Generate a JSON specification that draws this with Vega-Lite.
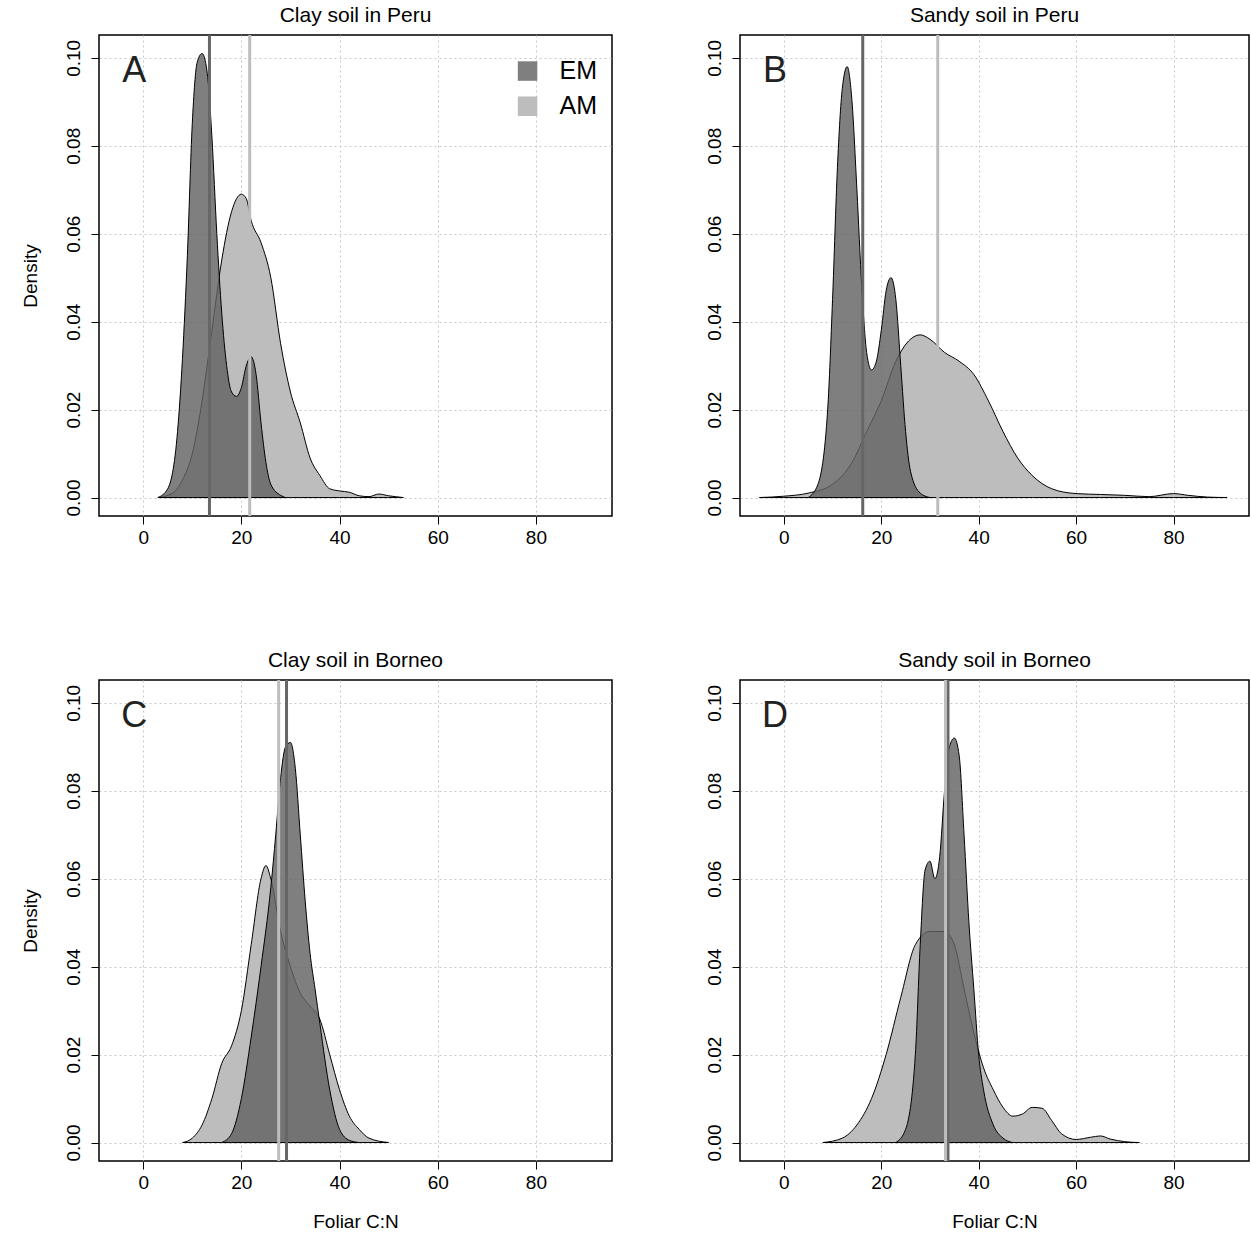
{
  "$schema": "https://vega.github.io/schema/vega-lite/v6.json",
  "background": "white",
  "padding": {"left": 20, "top": 3, "right": 0, "bottom": 0},
  "datasets": {
    "dens": [
      {"p":"A","g":"EM","x":3,"y":0},{"p":"A","g":"EM","x":5,"y":0.002},{"p":"A","g":"EM","x":7,"y":0.015},{"p":"A","g":"EM","x":9,"y":0.055},{"p":"A","g":"EM","x":10,"y":0.085},{"p":"A","g":"EM","x":11,"y":0.099},{"p":"A","g":"EM","x":12,"y":0.101},{"p":"A","g":"EM","x":13,"y":0.097},{"p":"A","g":"EM","x":14,"y":0.082},{"p":"A","g":"EM","x":15,"y":0.06},{"p":"A","g":"EM","x":16,"y":0.042},{"p":"A","g":"EM","x":17,"y":0.03},{"p":"A","g":"EM","x":18,"y":0.024},{"p":"A","g":"EM","x":19,"y":0.023},{"p":"A","g":"EM","x":20,"y":0.025},{"p":"A","g":"EM","x":21,"y":0.03},{"p":"A","g":"EM","x":22,"y":0.032},{"p":"A","g":"EM","x":23,"y":0.028},{"p":"A","g":"EM","x":24,"y":0.017},{"p":"A","g":"EM","x":25,"y":0.008},{"p":"A","g":"EM","x":26,"y":0.003},{"p":"A","g":"EM","x":28,"y":0.0005},{"p":"A","g":"EM","x":29,"y":0},
      {"p":"A","g":"AM","x":3,"y":0},{"p":"A","g":"AM","x":6,"y":0.001},{"p":"A","g":"AM","x":8,"y":0.004},{"p":"A","g":"AM","x":10,"y":0.01},{"p":"A","g":"AM","x":12,"y":0.022},{"p":"A","g":"AM","x":14,"y":0.038},{"p":"A","g":"AM","x":16,"y":0.054},{"p":"A","g":"AM","x":18,"y":0.065},{"p":"A","g":"AM","x":20,"y":0.069},{"p":"A","g":"AM","x":21,"y":0.068},{"p":"A","g":"AM","x":22,"y":0.063},{"p":"A","g":"AM","x":24,"y":0.058},{"p":"A","g":"AM","x":26,"y":0.05},{"p":"A","g":"AM","x":28,"y":0.035},{"p":"A","g":"AM","x":30,"y":0.024},{"p":"A","g":"AM","x":32,"y":0.017},{"p":"A","g":"AM","x":34,"y":0.009},{"p":"A","g":"AM","x":36,"y":0.005},{"p":"A","g":"AM","x":38,"y":0.002},{"p":"A","g":"AM","x":40,"y":0.0015},{"p":"A","g":"AM","x":42,"y":0.0012},{"p":"A","g":"AM","x":44,"y":0.0004},{"p":"A","g":"AM","x":46,"y":0.0002},{"p":"A","g":"AM","x":48,"y":0.0008},{"p":"A","g":"AM","x":50,"y":0.0004},{"p":"A","g":"AM","x":53,"y":0},
      {"p":"B","g":"EM","x":5,"y":0},{"p":"B","g":"EM","x":7,"y":0.003},{"p":"B","g":"EM","x":9,"y":0.02},{"p":"B","g":"EM","x":10,"y":0.045},{"p":"B","g":"EM","x":11,"y":0.075},{"p":"B","g":"EM","x":12,"y":0.093},{"p":"B","g":"EM","x":13,"y":0.098},{"p":"B","g":"EM","x":14,"y":0.09},{"p":"B","g":"EM","x":15,"y":0.07},{"p":"B","g":"EM","x":16,"y":0.048},{"p":"B","g":"EM","x":17,"y":0.033},{"p":"B","g":"EM","x":18,"y":0.029},{"p":"B","g":"EM","x":19,"y":0.031},{"p":"B","g":"EM","x":20,"y":0.038},{"p":"B","g":"EM","x":21,"y":0.047},{"p":"B","g":"EM","x":22,"y":0.05},{"p":"B","g":"EM","x":23,"y":0.045},{"p":"B","g":"EM","x":24,"y":0.03},{"p":"B","g":"EM","x":25,"y":0.015},{"p":"B","g":"EM","x":26,"y":0.006},{"p":"B","g":"EM","x":28,"y":0.001},{"p":"B","g":"EM","x":30,"y":0},
      {"p":"B","g":"AM","x":-5,"y":0},{"p":"B","g":"AM","x":0,"y":0.0003},{"p":"B","g":"AM","x":5,"y":0.001},{"p":"B","g":"AM","x":10,"y":0.003},{"p":"B","g":"AM","x":14,"y":0.008},{"p":"B","g":"AM","x":17,"y":0.015},{"p":"B","g":"AM","x":20,"y":0.022},{"p":"B","g":"AM","x":23,"y":0.031},{"p":"B","g":"AM","x":26,"y":0.036},{"p":"B","g":"AM","x":28,"y":0.037},{"p":"B","g":"AM","x":30,"y":0.036},{"p":"B","g":"AM","x":33,"y":0.033},{"p":"B","g":"AM","x":36,"y":0.031},{"p":"B","g":"AM","x":39,"y":0.028},{"p":"B","g":"AM","x":42,"y":0.022},{"p":"B","g":"AM","x":45,"y":0.015},{"p":"B","g":"AM","x":48,"y":0.009},{"p":"B","g":"AM","x":51,"y":0.005},{"p":"B","g":"AM","x":55,"y":0.002},{"p":"B","g":"AM","x":60,"y":0.0009},{"p":"B","g":"AM","x":65,"y":0.0007},{"p":"B","g":"AM","x":70,"y":0.0005},{"p":"B","g":"AM","x":75,"y":0.0002},{"p":"B","g":"AM","x":80,"y":0.0009},{"p":"B","g":"AM","x":83,"y":0.0005},{"p":"B","g":"AM","x":87,"y":0.0001},{"p":"B","g":"AM","x":91,"y":0},
      {"p":"C","g":"EM","x":16,"y":0},{"p":"C","g":"EM","x":18,"y":0.002},{"p":"C","g":"EM","x":20,"y":0.01},{"p":"C","g":"EM","x":22,"y":0.024},{"p":"C","g":"EM","x":24,"y":0.04},{"p":"C","g":"EM","x":26,"y":0.058},{"p":"C","g":"EM","x":27,"y":0.07},{"p":"C","g":"EM","x":28,"y":0.083},{"p":"C","g":"EM","x":29,"y":0.09},{"p":"C","g":"EM","x":30,"y":0.091},{"p":"C","g":"EM","x":31,"y":0.085},{"p":"C","g":"EM","x":32,"y":0.07},{"p":"C","g":"EM","x":33,"y":0.055},{"p":"C","g":"EM","x":34,"y":0.043},{"p":"C","g":"EM","x":35,"y":0.035},{"p":"C","g":"EM","x":36,"y":0.027},{"p":"C","g":"EM","x":38,"y":0.012},{"p":"C","g":"EM","x":40,"y":0.003},{"p":"C","g":"EM","x":42,"y":0.0005},{"p":"C","g":"EM","x":44,"y":0},
      {"p":"C","g":"AM","x":8,"y":0},{"p":"C","g":"AM","x":10,"y":0.001},{"p":"C","g":"AM","x":12,"y":0.004},{"p":"C","g":"AM","x":14,"y":0.01},{"p":"C","g":"AM","x":16,"y":0.018},{"p":"C","g":"AM","x":18,"y":0.022},{"p":"C","g":"AM","x":20,"y":0.03},{"p":"C","g":"AM","x":22,"y":0.045},{"p":"C","g":"AM","x":24,"y":0.06},{"p":"C","g":"AM","x":25,"y":0.063},{"p":"C","g":"AM","x":26,"y":0.06},{"p":"C","g":"AM","x":28,"y":0.048},{"p":"C","g":"AM","x":30,"y":0.04},{"p":"C","g":"AM","x":32,"y":0.034},{"p":"C","g":"AM","x":34,"y":0.031},{"p":"C","g":"AM","x":36,"y":0.028},{"p":"C","g":"AM","x":38,"y":0.02},{"p":"C","g":"AM","x":40,"y":0.012},{"p":"C","g":"AM","x":42,"y":0.006},{"p":"C","g":"AM","x":44,"y":0.003},{"p":"C","g":"AM","x":46,"y":0.001},{"p":"C","g":"AM","x":50,"y":0},
      {"p":"D","g":"EM","x":23,"y":0},{"p":"D","g":"EM","x":25,"y":0.003},{"p":"D","g":"EM","x":27,"y":0.02},{"p":"D","g":"EM","x":28,"y":0.045},{"p":"D","g":"EM","x":29,"y":0.062},{"p":"D","g":"EM","x":30,"y":0.064},{"p":"D","g":"EM","x":31,"y":0.06},{"p":"D","g":"EM","x":32,"y":0.065},{"p":"D","g":"EM","x":33,"y":0.08},{"p":"D","g":"EM","x":34,"y":0.09},{"p":"D","g":"EM","x":35,"y":0.092},{"p":"D","g":"EM","x":36,"y":0.088},{"p":"D","g":"EM","x":37,"y":0.07},{"p":"D","g":"EM","x":38,"y":0.05},{"p":"D","g":"EM","x":39,"y":0.035},{"p":"D","g":"EM","x":40,"y":0.02},{"p":"D","g":"EM","x":41,"y":0.012},{"p":"D","g":"EM","x":43,"y":0.004},{"p":"D","g":"EM","x":45,"y":0.001},{"p":"D","g":"EM","x":47,"y":0},
      {"p":"D","g":"AM","x":8,"y":0},{"p":"D","g":"AM","x":12,"y":0.001},{"p":"D","g":"AM","x":15,"y":0.004},{"p":"D","g":"AM","x":18,"y":0.01},{"p":"D","g":"AM","x":21,"y":0.02},{"p":"D","g":"AM","x":24,"y":0.033},{"p":"D","g":"AM","x":27,"y":0.045},{"p":"D","g":"AM","x":30,"y":0.048},{"p":"D","g":"AM","x":33,"y":0.048},{"p":"D","g":"AM","x":35,"y":0.045},{"p":"D","g":"AM","x":37,"y":0.035},{"p":"D","g":"AM","x":39,"y":0.025},{"p":"D","g":"AM","x":41,"y":0.017},{"p":"D","g":"AM","x":43,"y":0.012},{"p":"D","g":"AM","x":45,"y":0.008},{"p":"D","g":"AM","x":47,"y":0.006},{"p":"D","g":"AM","x":49,"y":0.0065},{"p":"D","g":"AM","x":51,"y":0.008},{"p":"D","g":"AM","x":53,"y":0.0078},{"p":"D","g":"AM","x":55,"y":0.005},{"p":"D","g":"AM","x":57,"y":0.002},{"p":"D","g":"AM","x":60,"y":0.0007},{"p":"D","g":"AM","x":63,"y":0.0012},{"p":"D","g":"AM","x":65,"y":0.0015},{"p":"D","g":"AM","x":67,"y":0.0008},{"p":"D","g":"AM","x":70,"y":0.0002},{"p":"D","g":"AM","x":73,"y":0}
    ],
    "means": [
      {"p":"A","g":"EM","x":13.5},{"p":"A","g":"AM","x":21.7},
      {"p":"B","g":"EM","x":16.2},{"p":"B","g":"AM","x":31.6},
      {"p":"C","g":"EM","x":29.2},{"p":"C","g":"AM","x":27.6},
      {"p":"D","g":"EM","x":33.7},{"p":"D","g":"AM","x":33.2}
    ],
    "letters": [
      {"p":"A","x":-1.8,"y":0.097,"t":"A"},{"p":"B","x":-1.8,"y":0.097,"t":"B"},
      {"p":"C","x":-1.8,"y":0.097,"t":"C"},{"p":"D","x":-1.8,"y":0.097,"t":"D"}
    ],
    "leg": [
      {"g":"EM","x":78.3,"y":0.097},{"g":"AM","x":78.3,"y":0.089}
    ]
  },
  "config": {
    "font": "Liberation Sans",
    "view": {"stroke": "black", "strokeWidth": 1.5},
    "title": {"fontSize": 21, "fontWeight": "normal", "offset": 8},
    "axis": {
      "labelFontSize": 19, "titleFontSize": 19, "titleFontWeight": "normal",
      "labelColor": "black", "titleColor": "black", "tickColor": "black",
      "tickSize": 8, "tickWidth": 1, "domain": false,
      "gridDash": [2, 3], "gridColor": "#c8c8c8", "labelPadding": 8
    },
    "axisX": {"labelPadding": 4},
    "area": {"interpolate": "monotone"}
  },
  "spacing": 100,
  "vconcat": [
    {"spacing": 91, "hconcat": [
      {"width": 513, "height": 481, "title": "Clay soil in Peru", "layer": [
        {"data": {"name": "dens"}, "transform": [{"filter": "datum.p=='A' && datum.g=='AM'"}],
         "mark": {"type": "area", "color": "#bdbdbd", "stroke": "black", "strokeWidth": 1},
         "encoding": {
           "x": {"field": "x", "type": "quantitative", "scale": {"domain": [-9, 95.5], "nice": false, "zero": false}, "axis": {"values": [0,20,40,60,80], "title": null}},
           "y": {"field": "y", "type": "quantitative", "scale": {"domain": [-0.0042, 0.1052], "nice": false, "zero": false}, "axis": {"values": [0,0.02,0.04,0.06,0.08,0.1], "format": ".2f", "labelAngle": -90, "labelAlign": "center", "labelBaseline": "bottom", "title": "Density", "titlePadding": 24}}}},
        {"data": {"name": "dens"}, "transform": [{"filter": "datum.p=='A' && datum.g=='EM'"}],
         "mark": {"type": "area", "color": "#636363", "fillOpacity": 0.82, "stroke": "black", "strokeWidth": 1},
         "encoding": {"x": {"field": "x", "type": "quantitative"}, "y": {"field": "y", "type": "quantitative"}}},
        {"data": {"name": "means"}, "transform": [{"filter": "datum.p=='A'"}],
         "mark": {"type": "rule", "strokeWidth": 3},
         "encoding": {"x": {"field": "x", "type": "quantitative"}, "color": {"field": "g", "type": "nominal", "scale": {"domain": ["EM","AM"], "range": ["#666666","#bdbdbd"]}, "legend": null}}},
        {"data": {"name": "letters"}, "transform": [{"filter": "datum.p=='A'"}],
         "mark": {"type": "text", "fontSize": 36, "color": "#222"},
         "encoding": {"x": {"field": "x", "type": "quantitative"}, "y": {"field": "y", "type": "quantitative"}, "text": {"field": "t"}}},
        {"data": {"name": "leg"},
         "mark": {"type": "square", "size": 380, "opacity": 1},
         "encoding": {"x": {"field": "x", "type": "quantitative"}, "y": {"field": "y", "type": "quantitative"}, "color": {"field": "g", "type": "nominal", "scale": {"domain": ["EM","AM"], "range": ["#7f7f7f","#bdbdbd"]}, "legend": null}}},
        {"data": {"name": "leg"},
         "mark": {"type": "text", "fontSize": 25, "align": "left", "dx": 32, "color": "black"},
         "encoding": {"x": {"field": "x", "type": "quantitative"}, "y": {"field": "y", "type": "quantitative"}, "text": {"field": "g"}}}
      ], "resolve": {"scale": {"color": "independent"}}},
      {"width": 509, "height": 481, "title": "Sandy soil in Peru", "layer": [
        {"data": {"name": "dens"}, "transform": [{"filter": "datum.p=='B' && datum.g=='AM'"}],
         "mark": {"type": "area", "color": "#bdbdbd", "stroke": "black", "strokeWidth": 1},
         "encoding": {
           "x": {"field": "x", "type": "quantitative", "scale": {"domain": [-9, 95.5], "nice": false, "zero": false}, "axis": {"values": [0,20,40,60,80], "title": null}},
           "y": {"field": "y", "type": "quantitative", "scale": {"domain": [-0.0042, 0.1052], "nice": false, "zero": false}, "axis": {"values": [0,0.02,0.04,0.06,0.08,0.1], "format": ".2f", "labelAngle": -90, "labelAlign": "center", "labelBaseline": "bottom", "title": null}}}},
        {"data": {"name": "dens"}, "transform": [{"filter": "datum.p=='B' && datum.g=='EM'"}],
         "mark": {"type": "area", "color": "#636363", "fillOpacity": 0.82, "stroke": "black", "strokeWidth": 1},
         "encoding": {"x": {"field": "x", "type": "quantitative"}, "y": {"field": "y", "type": "quantitative"}}},
        {"data": {"name": "means"}, "transform": [{"filter": "datum.p=='B'"}],
         "mark": {"type": "rule", "strokeWidth": 3},
         "encoding": {"x": {"field": "x", "type": "quantitative"}, "color": {"field": "g", "type": "nominal", "scale": {"domain": ["EM","AM"], "range": ["#666666","#bdbdbd"]}, "legend": null}}},
        {"data": {"name": "letters"}, "transform": [{"filter": "datum.p=='B'"}],
         "mark": {"type": "text", "fontSize": 36, "color": "#222"},
         "encoding": {"x": {"field": "x", "type": "quantitative"}, "y": {"field": "y", "type": "quantitative"}, "text": {"field": "t"}}}
      ]}
    ]},
    {"spacing": 91, "hconcat": [
      {"width": 513, "height": 481, "title": "Clay soil in Borneo", "layer": [
        {"data": {"name": "dens"}, "transform": [{"filter": "datum.p=='C' && datum.g=='AM'"}],
         "mark": {"type": "area", "color": "#bdbdbd", "stroke": "black", "strokeWidth": 1},
         "encoding": {
           "x": {"field": "x", "type": "quantitative", "scale": {"domain": [-9, 95.5], "nice": false, "zero": false}, "axis": {"values": [0,20,40,60,80], "title": "Foliar C:N", "titlePadding": 20}},
           "y": {"field": "y", "type": "quantitative", "scale": {"domain": [-0.0042, 0.1052], "nice": false, "zero": false}, "axis": {"values": [0,0.02,0.04,0.06,0.08,0.1], "format": ".2f", "labelAngle": -90, "labelAlign": "center", "labelBaseline": "bottom", "title": "Density", "titlePadding": 24}}}},
        {"data": {"name": "dens"}, "transform": [{"filter": "datum.p=='C' && datum.g=='EM'"}],
         "mark": {"type": "area", "color": "#636363", "fillOpacity": 0.82, "stroke": "black", "strokeWidth": 1},
         "encoding": {"x": {"field": "x", "type": "quantitative"}, "y": {"field": "y", "type": "quantitative"}}},
        {"data": {"name": "means"}, "transform": [{"filter": "datum.p=='C'"}],
         "mark": {"type": "rule", "strokeWidth": 3},
         "encoding": {"x": {"field": "x", "type": "quantitative"}, "color": {"field": "g", "type": "nominal", "scale": {"domain": ["EM","AM"], "range": ["#666666","#bdbdbd"]}, "legend": null}}},
        {"data": {"name": "letters"}, "transform": [{"filter": "datum.p=='C'"}],
         "mark": {"type": "text", "fontSize": 36, "color": "#222"},
         "encoding": {"x": {"field": "x", "type": "quantitative"}, "y": {"field": "y", "type": "quantitative"}, "text": {"field": "t"}}}
      ]},
      {"width": 509, "height": 481, "title": "Sandy soil in Borneo", "layer": [
        {"data": {"name": "dens"}, "transform": [{"filter": "datum.p=='D' && datum.g=='AM'"}],
         "mark": {"type": "area", "color": "#bdbdbd", "stroke": "black", "strokeWidth": 1},
         "encoding": {
           "x": {"field": "x", "type": "quantitative", "scale": {"domain": [-9, 95.5], "nice": false, "zero": false}, "axis": {"values": [0,20,40,60,80], "title": "Foliar C:N", "titlePadding": 20}},
           "y": {"field": "y", "type": "quantitative", "scale": {"domain": [-0.0042, 0.1052], "nice": false, "zero": false}, "axis": {"values": [0,0.02,0.04,0.06,0.08,0.1], "format": ".2f", "labelAngle": -90, "labelAlign": "center", "labelBaseline": "bottom", "title": null}}}},
        {"data": {"name": "dens"}, "transform": [{"filter": "datum.p=='D' && datum.g=='EM'"}],
         "mark": {"type": "area", "color": "#636363", "fillOpacity": 0.82, "stroke": "black", "strokeWidth": 1},
         "encoding": {"x": {"field": "x", "type": "quantitative"}, "y": {"field": "y", "type": "quantitative"}}},
        {"data": {"name": "means"}, "transform": [{"filter": "datum.p=='D'"}],
         "mark": {"type": "rule", "strokeWidth": 3},
         "encoding": {"x": {"field": "x", "type": "quantitative"}, "color": {"field": "g", "type": "nominal", "scale": {"domain": ["EM","AM"], "range": ["#666666","#a8a8a8"]}, "legend": null}}},
        {"data": {"name": "letters"}, "transform": [{"filter": "datum.p=='D'"}],
         "mark": {"type": "text", "fontSize": 36, "color": "#222"},
         "encoding": {"x": {"field": "x", "type": "quantitative"}, "y": {"field": "y", "type": "quantitative"}, "text": {"field": "t"}}}
      ]}
    ]}
  ],
  "resolve": {"scale": {"color": "independent"}}
}
